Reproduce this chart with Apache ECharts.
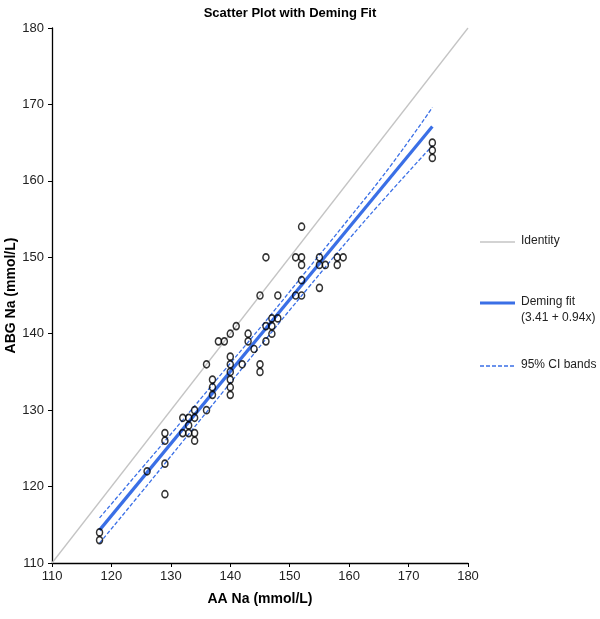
<!DOCTYPE html>
<html><head><meta charset="utf-8">
<script src="https://cdn.jsdelivr.net/npm/echarts@6/dist/echarts.min.js"></script>
<style>html,body{margin:0;padding:0;background:#fff}#c{width:600px;height:619px}</style>
</head><body><div id="c"></div>
<script>
// Scatter points: AA Na (x) and ABG Na (y)
var aaNa  = [118,118,126,129,129,129,129,132,133,134,132,133,134,133,134,134,136,136,137,137,137,138,139,140,141,140,140,140,140,140,140,142,143,143,144,145,145,145,146,146,146,147,147,147,148,148,151,152,152,152,152,151,152,155,155,156,155,158,159,158,174,174,174];
var abgNa = [114,113,122,127,126,123,119,129,129,129,127,127,127,128,130,126,130,136,134,133,132,139,139,140,141,137,136,135,134,133,132,136,140,139,138,145,136,135,150,139,141,142,141,140,145,142,150,150,149,154,147,145,145,150,149,149,146,150,150,149,165,164,163];
// Identity line
var identX = [110,180];
var identY = [110,180];
// Deming fit (3.41 + 0.94x)
var fitX = [118,174];
var fitY = [114.3,167.1];
// 95% CI bands
var ciX     = [118,125,132,139,146,153,160,167,174];
var ciUpper = [115.9,122.3,128.7,135.2,141.7,148.4,155.1,162.0,169.6];
var ciLower = [112.6,119.2,125.9,132.6,139.3,145.9,152.4,158.6,164.6];
var xTicks = [110,120,130,140,150,160,170,180];
var yTicks = [110,120,130,140,150,160,170,180];

function zip(a,b){return a.map(function(v,i){return [v,b[i]];});}
var FONT = '"Liberation Sans", Arial, sans-serif';
var blue = '#3a6fe6';
var chart = echarts.init(document.getElementById('c'));
chart.setOption({
  animation:false,
  title:{text:'Scatter Plot with Deming Fit',left:285,top:2,textAlign:'center',
    textStyle:{fontFamily:FONT,fontSize:13,fontWeight:'bold',color:'#000'}},
  grid:{left:52,right:132,top:28,bottom:56,containLabel:false,outerBoundsMode:'none'},
  xAxis:{type:'value',min:xTicks[0],max:xTicks[xTicks.length-1],interval:10,
    name:'AA Na (mmol/L)',nameLocation:'middle',nameGap:29,nameMoveOverlap:false,
    nameTextStyle:{fontFamily:FONT,fontSize:14,fontWeight:'bold',color:'#000'},
    axisLine:{lineStyle:{color:'#000',width:1.3}},
    axisTick:{show:true,length:4,lineStyle:{color:'#000'}},
    axisLabel:{fontFamily:FONT,fontSize:13,color:'#222',margin:7},
    splitLine:{show:false}},
  yAxis:{type:'value',min:yTicks[0],max:yTicks[yTicks.length-1],interval:10,
    name:'ABG Na (mmol/L)',nameLocation:'middle',nameGap:34,nameMoveOverlap:false,
    nameTextStyle:{fontFamily:FONT,fontSize:14,fontWeight:'bold',color:'#000'},
    axisLine:{show:true,lineStyle:{color:'#000',width:1.3}},
    axisTick:{show:true,length:4,lineStyle:{color:'#000'}},
    axisLabel:{fontFamily:FONT,fontSize:13,color:'#222',margin:8},
    splitLine:{show:false}},
  series:[
    {type:'line',data:zip(identX,identY),symbol:'none',lineStyle:{color:'#c4c4c4',width:1.3},z:1},
    {type:'line',data:zip(ciX,ciUpper),symbol:'none',smooth:true,lineStyle:{color:blue,width:1.3,type:[4,2]},z:2},
    {type:'line',data:zip(ciX,ciLower),symbol:'none',smooth:true,lineStyle:{color:blue,width:1.3,type:[4,2]},z:2},
    {type:'line',data:zip(fitX,fitY),symbol:'none',lineStyle:{color:blue,width:3.2},z:3},
    {type:'scatter',data:zip(aaNa,abgNa),symbol:'circle',symbolSize:[6,7],
      itemStyle:{color:'rgba(255,255,255,0)',borderColor:'#000',borderWidth:1.6},z:5}
  ],
  graphic:[
    {type:'line',shape:{x1:480,y1:242,x2:515,y2:242},style:{stroke:'#c4c4c4',lineWidth:1.3}},
    {type:'text',left:521,top:235,style:{text:'Identity',fontFamily:FONT,fontSize:12,fill:'#222'}},
    {type:'line',shape:{x1:480,y1:303,x2:515,y2:303},style:{stroke:blue,lineWidth:3.2}},
    {type:'text',left:521,top:296,style:{text:'Deming fit',fontFamily:FONT,fontSize:12,fill:'#222'}},
    {type:'text',left:521,top:312,style:{text:'(3.41 + 0.94x)',fontFamily:FONT,fontSize:12,fill:'#222'}},
    {type:'line',shape:{x1:480,y1:366,x2:515,y2:366},style:{stroke:blue,lineWidth:1.3,lineDash:[4,2]}},
    {type:'text',left:521,top:359,style:{text:'95% CI bands',fontFamily:FONT,fontSize:12,fill:'#222'}}
  ]
});
</script></body></html>
